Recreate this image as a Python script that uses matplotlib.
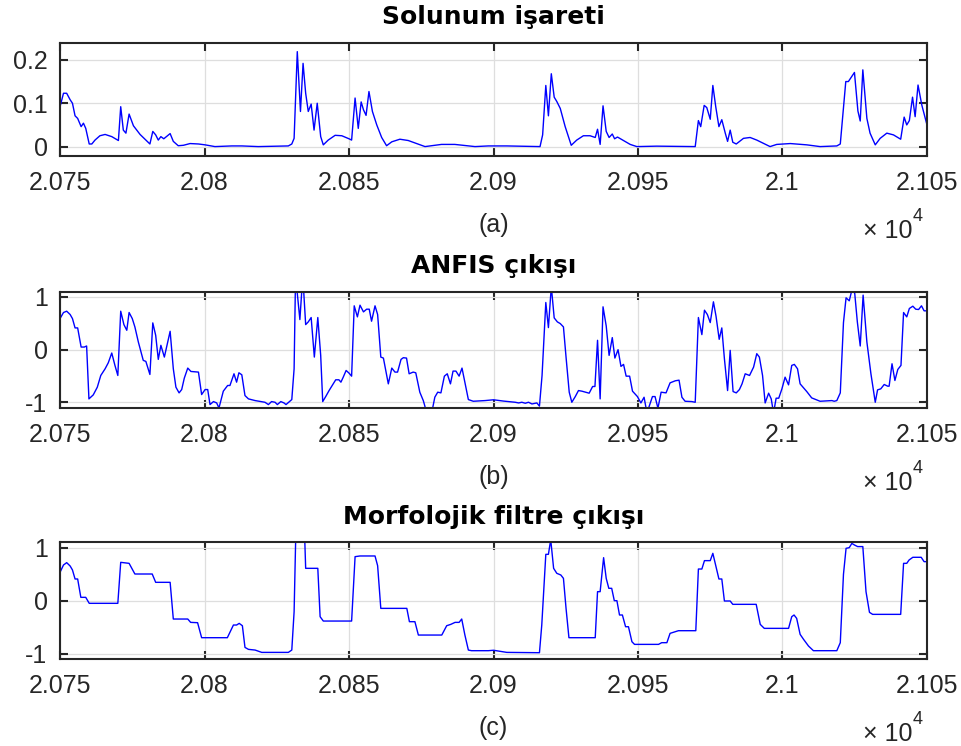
import matplotlib
matplotlib.use("Agg")
import matplotlib.pyplot as plt

plt.rcParams["font.family"] = ["Liberation Sans", "DejaVu Sans"]

# x axis ticks (data is in samples, labels shown in units of 1e4)
x_ticks = [20750, 20800, 20850, 20900, 20950, 21000, 21050]
x_tick_labels = ["2.075", "2.08", "2.085", "2.09", "2.095", "2.1", "2.105"]

titles = ["Solunum işareti", "ANFIS çıkışı", "Morfolojik filtre çıkışı"]
sublabels = ["(a)", "(b)", "(c)"]

# (sample, value)
solunum = [
    (20750.0, 0.092), (20751.2, 0.123), (20752.3, 0.123), (20753.5, 0.108), (20754.3, 0.100),
    (20755.2, 0.071), (20756.1, 0.065), (20757.3, 0.046), (20758.1, 0.054), (20758.9, 0.042),
    (20760.1, 0.006), (20761.0, 0.006), (20762.1, 0.015), (20763.8, 0.025), (20765.6, 0.028),
    (20767.9, 0.023), (20770.2, 0.014), (20771.0, 0.092), (20771.9, 0.038), (20772.8, 0.031),
    (20773.9, 0.075), (20775.4, 0.048), (20777.7, 0.028), (20781.1, 0.006), (20782.1, 0.035),
    (20783.1, 0.027), (20784.0, 0.015), (20784.9, 0.023), (20785.9, 0.018), (20788.1, 0.030),
    (20789.2, 0.012), (20790.9, 0.002), (20792.7, 0.003), (20795.0, 0.007), (20797.9, 0.006),
    (20800.2, 0.004), (20803.6, 0.000), (20809.4, 0.0015), (20812.9, 0.0015), (20818.6, 0.000),
    (20829.0, 0.0015), (20830.2, 0.006), (20831.0, 0.019), (20832.1, 0.219), (20833.2, 0.081),
    (20834.1, 0.192), (20835.0, 0.123), (20835.9, 0.081), (20836.9, 0.098), (20837.9, 0.038),
    (20839.0, 0.100), (20840.2, 0.023), (20841.1, 0.004), (20842.8, 0.015), (20845.2, 0.026),
    (20847.5, 0.025), (20850.0, 0.018), (20850.9, 0.015), (20852.1, 0.112), (20853.2, 0.042),
    (20854.2, 0.103), (20855.0, 0.085), (20855.9, 0.072), (20856.9, 0.127), (20858.1, 0.081),
    (20859.6, 0.050), (20861.3, 0.021), (20863.0, 0.002), (20864.8, 0.011), (20867.6, 0.017),
    (20870.5, 0.014), (20876.3, 0.000), (20882.0, 0.005), (20886.6, 0.005), (20893.6, 0.000),
    (20898.2, 0.0015), (20900.0, 0.0015), (20904.6, 0.0015), (20916.1, 0.000), (20917.0, 0.027),
    (20918.1, 0.141), (20919.0, 0.071), (20920.0, 0.168), (20921.0, 0.114), (20921.9, 0.104),
    (20923.1, 0.088), (20924.8, 0.046), (20926.9, 0.003), (20928.8, 0.015), (20931.1, 0.025),
    (20933.4, 0.025), (20935.2, 0.021), (20936.0, 0.040), (20936.9, 0.005), (20937.9, 0.094),
    (20939.0, 0.035), (20940.0, 0.021), (20941.1, 0.029), (20941.9, 0.018), (20942.9, 0.022),
    (20945.0, 0.014), (20947.3, 0.005), (20949.6, 0.000), (20956.5, 0.001), (20969.8, 0.000),
    (20970.9, 0.060), (20971.7, 0.046), (20972.9, 0.095), (20973.8, 0.090), (20975.0, 0.063),
    (20975.9, 0.141), (20976.9, 0.092), (20978.0, 0.046), (20979.0, 0.062), (20980.2, 0.031),
    (20981.0, 0.012), (20981.9, 0.038), (20982.8, 0.010), (20984.0, 0.006), (20986.5, 0.019),
    (20988.8, 0.021), (20991.1, 0.015), (20995.7, 0.000), (20998.0, 0.005), (21002.7, 0.007),
    (21008.4, 0.004), (21013.0, 0.000), (21018.8, 0.0015), (21020.0, 0.006), (21021.9, 0.150),
    (21022.8, 0.150), (21024.0, 0.162), (21024.9, 0.171), (21026.1, 0.082), (21026.9, 0.059),
    (21027.8, 0.177), (21029.2, 0.065), (21030.3, 0.031), (21032.1, 0.004), (21033.8, 0.019),
    (21036.1, 0.031), (21038.4, 0.027), (21040.9, 0.017), (21042.1, 0.068), (21043.0, 0.050),
    (21043.9, 0.060), (21045.0, 0.114), (21045.9, 0.069), (21046.9, 0.142), (21048.2, 0.096),
    (21050.0, 0.050),
]

anfis = [
    (20750.0, 0.59), (20751.2, 0.705), (20752.3, 0.73), (20753.5, 0.667), (20754.3, 0.59),
    (20755.2, 0.413), (20756.1, 0.413), (20757.3, 0.05), (20758.4, 0.05), (20759.2, 0.07),
    (20760.0, -0.933), (20761.5, -0.857), (20762.9, -0.711), (20764.1, -0.489), (20765.6, -0.362),
    (20766.7, -0.248), (20767.9, -0.063), (20769.0, -0.298), (20770.0, -0.489), (20771.0, 0.73),
    (20772.1, 0.476), (20773.1, 0.368), (20773.9, 0.705), (20775.0, 0.59), (20775.9, 0.432),
    (20777.1, 0.146), (20778.8, -0.203), (20779.7, -0.222), (20781.1, -0.47), (20782.1, 0.508),
    (20783.1, 0.273), (20784.0, -0.184), (20784.9, 0.083), (20786.1, -0.14), (20788.1, 0.349),
    (20789.2, -0.362), (20790.1, -0.711), (20791.2, -0.819), (20792.1, -0.756), (20793.0, -0.54),
    (20794.2, -0.349), (20795.3, -0.413), (20797.9, -0.425), (20799.0, -0.851), (20800.2, -0.756),
    (20801.1, -0.756), (20801.9, -1.041), (20803.1, -0.984), (20804.2, -1.01), (20805.0, -1.105),
    (20806.5, -0.787), (20808.0, -0.679), (20808.8, -0.679), (20810.2, -0.457), (20811.1, -0.616),
    (20811.9, -0.438), (20812.9, -0.476), (20814.0, -0.87), (20815.2, -0.933), (20817.5, -0.965),
    (20820.9, -0.997), (20822.1, -1.041), (20823.2, -0.984), (20824.4, -0.997), (20825.2, -1.041),
    (20826.4, -0.984), (20827.5, -1.01), (20828.2, -1.041), (20830.2, -0.946), (20831.0, -0.362),
    (20831.5, 1.4), (20833.0, 0.571), (20834.0, 1.4), (20835.0, 0.476), (20835.9, 0.527),
    (20836.9, 0.61), (20838.0, -0.14), (20839.2, 0.61), (20840.2, -0.108), (20840.9, -0.984),
    (20842.0, -0.883), (20843.1, -0.775), (20844.2, -0.679), (20845.4, -0.571), (20846.5, -0.571),
    (20847.2, -0.616), (20848.0, -0.521), (20849.0, -0.394), (20850.0, -0.444), (20850.9, -0.502),
    (20851.8, 0.832), (20852.9, 0.622), (20853.8, 0.844), (20855.0, 0.717), (20856.1, 0.768),
    (20857.0, 0.768), (20857.8, 0.54), (20859.0, 0.832), (20859.9, 0.667), (20861.0, -0.14),
    (20861.9, -0.159), (20863.6, -0.648), (20864.8, -0.349), (20865.9, -0.425), (20866.8, -0.425),
    (20868.0, -0.184), (20868.8, -0.152), (20869.9, -0.159), (20870.8, -0.457), (20872.2, -0.425),
    (20873.1, -0.438), (20874.5, -0.806), (20875.7, -0.965), (20876.2, -1.06), (20876.8, -1.2),
    (20878.6, -1.2), (20879.7, -0.9), (20880.7, -0.806), (20881.8, -0.819), (20883.0, -0.502),
    (20884.0, -0.457), (20885.1, -0.648), (20886.0, -0.406), (20887.0, -0.406), (20888.1, -0.502),
    (20889.1, -0.349), (20890.4, -0.698), (20891.3, -0.946), (20893.0, -0.978), (20897.1, -0.965),
    (20900.0, -0.95), (20903.5, -0.975), (20907.5, -0.997), (20908.7, -1.01), (20909.8, -0.997),
    (20911.0, -1.016), (20912.1, -0.997), (20913.3, -1.029), (20915.0, -1.01), (20915.9, -1.07),
    (20916.8, -0.489), (20918.1, 0.895), (20919.0, 0.419), (20920.0, 1.2), (20921.0, 0.603),
    (20922.1, 0.527), (20923.1, 0.495), (20924.2, 0.432), (20925.1, -0.14), (20926.2, -0.806),
    (20927.1, -0.997), (20928.3, -0.889), (20929.4, -0.775), (20930.6, -0.787), (20933.1, -0.825),
    (20934.3, -0.698), (20935.1, -0.698), (20936.0, 0.178), (20936.9, -0.933), (20937.9, 0.813),
    (20939.0, 0.451), (20940.0, -0.108), (20941.1, 0.229), (20942.0, -0.159), (20943.1, 0.0),
    (20944.1, -0.317), (20945.0, -0.279), (20945.9, -0.502), (20947.1, -0.502), (20948.1, -0.787),
    (20949.8, -0.889), (20951.0, -1.01), (20952.1, -0.902), (20953.1, -1.2), (20955.0, -0.889),
    (20955.9, -0.889), (20956.9, -1.11), (20958.0, -0.806), (20959.7, -0.819), (20961.1, -0.629),
    (20962.9, -0.59), (20964.2, -0.578), (20965.2, -0.902), (20966.3, -0.978), (20968.6, -0.984),
    (20969.8, -0.997), (20970.9, 0.61), (20972.1, 0.286), (20973.0, 0.749), (20974.0, 0.667),
    (20975.0, 0.514), (20976.1, 0.908), (20977.0, 0.635), (20978.1, 0.197), (20979.0, 0.413),
    (20979.9, -0.171), (20981.0, -0.775), (20981.9, -0.013), (20982.9, -0.794), (20984.0, -0.819),
    (20985.1, -0.756), (20986.0, -0.648), (20987.1, -0.457), (20988.6, -0.489), (20990.0, -0.33),
    (20991.1, -0.076), (20992.0, -0.14), (20993.1, -0.489), (20994.0, -1.01), (20995.2, -0.825),
    (20996.1, -0.933), (20996.9, -1.2), (20997.8, -0.92), (20998.7, -0.92), (20999.8, -0.743),
    (21000.9, -0.521), (21002.1, -0.667), (21003.2, -0.298), (21004.1, -0.279), (21005.2, -0.362),
    (21006.1, -0.648), (21008.4, -0.794), (21010.1, -0.914), (21013.0, -0.978), (21017.1, -0.965),
    (21017.9, -0.978), (21018.8, -0.965), (21020.0, -0.819), (21021.1, 0.514), (21022.0, 0.984),
    (21023.1, 0.927), (21024.1, 1.15), (21025.0, 1.067), (21025.9, 0.527), (21026.9, 0.07),
    (21027.9, 1.035), (21029.2, 0.146), (21030.6, -0.457), (21032.1, -0.997), (21032.9, -0.762),
    (21034.0, -0.743), (21035.2, -0.66), (21036.4, -0.692), (21036.9, -0.692), (21037.9, -0.267),
    (21038.9, -0.584), (21039.9, -0.375), (21041.0, -0.298), (21041.9, 0.705), (21043.0, 0.622),
    (21043.9, 0.781), (21045.1, 0.825), (21046.1, 0.768), (21047.1, 0.762), (21048.1, 0.832),
    (21049.0, 0.737), (21050.0, 0.737),
]

morfoloji = [
    (20750.0, 0.535), (20751.2, 0.673), (20752.3, 0.717), (20753.5, 0.654), (20754.3, 0.579),
    (20755.2, 0.409), (20756.1, 0.409), (20757.2, 0.063), (20758.9, 0.063), (20760.1, -0.05),
    (20770.0, -0.05), (20771.0, 0.723), (20773.9, 0.704), (20775.9, 0.503), (20781.9, 0.503),
    (20783.1, 0.346), (20788.1, 0.346), (20789.2, -0.346), (20794.2, -0.346), (20795.2, -0.409),
    (20797.6, -0.415), (20799.0, -0.698), (20807.9, -0.698), (20810.0, -0.459), (20811.1, -0.459),
    (20812.0, -0.428), (20813.1, -0.472), (20814.0, -0.881), (20815.2, -0.918), (20817.5, -0.931),
    (20819.8, -0.975), (20829.0, -0.975), (20830.2, -0.931), (20831.0, -0.208), (20831.6, 1.3),
    (20834.6, 1.3), (20835.0, 0.61), (20839.2, 0.61), (20840.0, -0.302), (20841.1, -0.384),
    (20850.9, -0.384), (20852.1, 0.83), (20853.8, 0.843), (20859.0, 0.843), (20859.9, 0.66),
    (20861.0, -0.145), (20870.0, -0.145), (20870.9, -0.396), (20872.8, -0.396), (20874.0, -0.648),
    (20882.1, -0.648), (20883.8, -0.472), (20885.2, -0.447), (20886.7, -0.409), (20888.1, -0.409),
    (20889.0, -0.346), (20890.1, -0.648), (20891.3, -0.931), (20892.4, -0.943), (20898.2, -0.943),
    (20900.0, -0.935), (20904.6, -0.975), (20915.9, -0.981), (20916.7, -0.459), (20918.1, 0.874),
    (20919.0, 0.874), (20919.8, 1.15), (20920.8, 0.61), (20921.9, 0.516), (20923.3, 0.484),
    (20924.2, 0.421), (20925.1, -0.145), (20926.1, -0.698), (20935.2, -0.698), (20936.0, 0.17),
    (20936.9, 0.17), (20938.1, 0.811), (20939.0, 0.421), (20939.9, 0.233), (20940.9, 0.233),
    (20941.8, 0.0), (20942.7, 0.0), (20943.6, -0.27), (20944.6, -0.27), (20945.7, -0.491),
    (20946.7, -0.491), (20947.9, -0.774), (20948.8, -0.824), (20957.1, -0.824), (20958.2, -0.792),
    (20960.0, -0.792), (20961.1, -0.616), (20962.9, -0.585), (20964.0, -0.566), (20970.0, -0.566),
    (20970.9, 0.597), (20972.1, 0.597), (20973.0, 0.755), (20975.0, 0.755), (20975.9, 0.893),
    (20977.0, 0.642), (20978.0, 0.409), (20979.0, 0.409), (20979.9, -0.006), (20981.9, -0.006),
    (20982.8, -0.069), (20990.9, -0.069), (20992.3, -0.447), (20993.7, -0.522), (21002.1, -0.522),
    (21003.2, -0.302), (21004.0, -0.27), (21004.9, -0.333), (21006.1, -0.635), (21007.3, -0.73),
    (21009.0, -0.855), (21010.7, -0.943), (21018.8, -0.943), (21020.0, -0.792), (21021.1, 0.497),
    (21022.0, 0.987), (21023.1, 1.0), (21024.0, 1.08), (21024.9, 1.05), (21026.0, 1.02),
    (21027.8, 1.02), (21028.9, 0.17), (21030.1, -0.22), (21031.2, -0.258), (21040.9, -0.258),
    (21041.9, 0.704), (21043.0, 0.704), (21043.8, 0.767), (21045.1, 0.818), (21048.0, 0.818),
    (21049.0, 0.736), (21050.0, 0.736),
]

series = [solunum, anfis, morfoloji]
y_limits = [(-0.021, 0.239), (-1.1, 1.1), (-1.1, 1.1)]
y_ticks = [[0, 0.1, 0.2], [-1, 0, 1], [-1, 0, 1]]
y_tick_labels = [["0", "0.1", "0.2"], ["-1", "0", "1"], ["-1", "0", "1"]]

# axes boxes in figure fraction (left, bottom, width, height)
boxes = [
    (0.0624, 0.7913, 0.9012, 0.1511),
    (0.0624, 0.4535, 0.9012, 0.1555),
    (0.0624, 0.1166, 0.9012, 0.1564),
]

dark = "#262626"
fig = plt.figure(figsize=(9.62, 7.46), dpi=100)

for data, title, sub, ylim, yt, ytl, box in zip(series, titles, sublabels,
                                                 y_limits, y_ticks, y_tick_labels, boxes):
    ax = fig.add_axes(box)
    xs = [p[0] for p in data]
    ys = [p[1] for p in data]
    ax.plot(xs, ys, color="#0000ff", lw=1.0)
    ax.set_xlim(20750, 21050)
    ax.set_ylim(*ylim)
    ax.set_xticks(x_ticks)
    ax.set_xticklabels(x_tick_labels)
    ax.set_yticks(yt)
    ax.set_yticklabels(ytl)
    ax.grid(True, color="#dedede", lw=0.9)
    ax.set_axisbelow(True)
    for s in ax.spines.values():
        s.set_color(dark)
        s.set_linewidth(1.5)
    ax.tick_params(direction="in", length=6, width=1.5, colors=dark,
                   labelsize=18, top=True, right=True)
    ax.tick_params(axis="x", pad=11)
    ax.tick_params(axis="y", pad=9)
    ax.set_title(title, fontsize=18, fontweight="bold", color="black",
                 family=["DejaVu Sans"], pad=13.5)
    ax.set_xlabel(sub, fontsize=18, color=dark, labelpad=13)
    # MATLAB style exponent under the right end of the x axis
    ax.annotate("4", xy=(1, 0), xycoords="axes fraction",
                xytext=(-4, -65), textcoords="offset pixels", ha="right",
                va="baseline", fontsize=13, color=dark)
    ax.annotate("× 10", xy=(1, 0), xycoords="axes fraction",
                xytext=(-14, -82), textcoords="offset pixels", ha="right",
                va="baseline", fontsize=18, color=dark)

fig.savefig("out.png", dpi=100)
